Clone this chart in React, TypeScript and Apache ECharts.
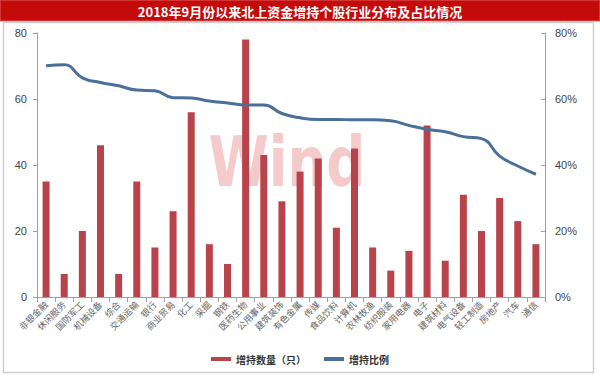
import React, { useEffect, useRef } from "react";
import * as echarts from "echarts";

const categories = ["非银金融","休闲服务","国防军工","机械设备","综合","交通运输","银行","商业贸易","化工","采掘","钢铁","医药生物","公用事业","建筑装饰","有色金属","传媒","食品饮料","计算机","农林牧渔","纺织服装","家用电器","电子","建筑材料","电气设备","轻工制造","房地产","汽车","通信"];
const counts = [35,7,20,46,7,35,15,26,56,16,10,78,43,29,38,42,21,45,15,8,14,52,11,31,20,30,23,16];
const ratios = [70.1,70.4,66.4,65.0,64.0,62.7,62.5,60.4,60.3,59.4,58.8,58.2,58.2,55.6,54.3,53.8,53.8,53.7,53.7,53.4,52.0,50.8,50.1,48.6,48.0,42.7,39.7,37.2];
const title = "2018年9月份以来北上资金增持个股行业分布及占比情况";

export default function App() {
  const ref = useRef<HTMLDivElement>(null);
  useEffect(() => {
    const chart = echarts.init(ref.current!, null, { renderer: "svg" });
    const font = "'Noto Sans CJK SC', sans-serif";
    chart.setOption({
      animation: false,
      backgroundColor: "#ffffff",
      graphic: [
        { type: "rect", z: 0, shape: { x: 0, y: 0, width: 600, height: 21 }, style: { fill: "#c50a0a", stroke: "#e06060", lineWidth: 1 } },
        { type: "text", z: 1, x: 300, y: 11, style: { text: title, fill: "#ffffff", font: "bold 13px 'Noto Sans CJK SC', sans-serif", align: "center", verticalAlign: "middle" } },
        { type: "rect", z: 0, shape: { x: 3.5, y: 22.5, width: 590, height: 350 }, style: { fill: "none", stroke: "#cfcfcf", lineWidth: 1.5 } },
        { type: "text", z: 0, x: 287, y: 162, scaleX: 0.78, style: { text: "Wind", fill: "rgba(236,150,150,0.5)", font: "bold 70px 'DejaVu Sans', sans-serif", align: "center", verticalAlign: "middle" } },
      ],
      legend: {
        bottom: 8,
        left: "center",
        itemWidth: 20,
        itemHeight: 4,
        itemGap: 18,
        textStyle: { fontFamily: font, fontSize: 10, fontWeight: "bold", color: "#333" },
        data: [
          { name: "增持数量（只）", icon: "rect" },
          { name: "增持比例", icon: "rect", itemStyle: { color: "#4a6f9a" } },
        ],
      },
      grid: { left: 37, right: 55, top: 33, bottom: 80 },
      xAxis: {
        type: "category",
        data: categories,
        axisLine: { lineStyle: { color: "#a0a0a0" } },
        axisTick: { show: true, lineStyle: { color: "#a0a0a0" } },
        axisLabel: { rotate: 45, interval: 0, fontSize: 9, color: "#666", fontFamily: font, margin: 6 },
      },
      yAxis: [
        {
          type: "value", min: 0, max: 80, interval: 20,
          axisLine: { show: true, lineStyle: { color: "#a0a0a0" } },
          axisTick: { show: true, inside: false, length: 4, lineStyle: { color: "#a0a0a0" } },
          splitLine: { show: false },
          axisLabel: { fontSize: 11, color: "#444", margin: 10, fontFamily: "'Liberation Sans', sans-serif" },
        },
        {
          type: "value", min: 0, max: 80, interval: 20,
          axisLine: { show: true, lineStyle: { color: "#a0a0a0" } },
          axisTick: { show: true, length: 4, inside: true, lineStyle: { color: "#a0a0a0" } },
          splitLine: { show: false },
          axisLabel: { fontSize: 11, color: "#444", margin: 10, formatter: "{value}%", fontFamily: "'Liberation Sans', sans-serif" },
        },
      ],
      series: [
        {
          name: "增持数量（只）",
          type: "bar",
          data: counts,
          barWidth: 7,
          z: 2,
          itemStyle: { color: "#b8434a" },
        },
        {
          name: "增持比例",
          type: "line",
          yAxisIndex: 1,
          data: ratios,
          smooth: true,
          showSymbol: false,
          symbol: "none",
          z: 3,
          lineStyle: { color: "#4a6f9a", width: 3 },
          itemStyle: { color: "#4a6f9a" },
        },
      ],
    });
    return () => chart.dispose();
  }, []);
  return <div ref={ref} style={{ width: 600, height: 377, position: "absolute", left: 0, top: 0 }} />;
}
